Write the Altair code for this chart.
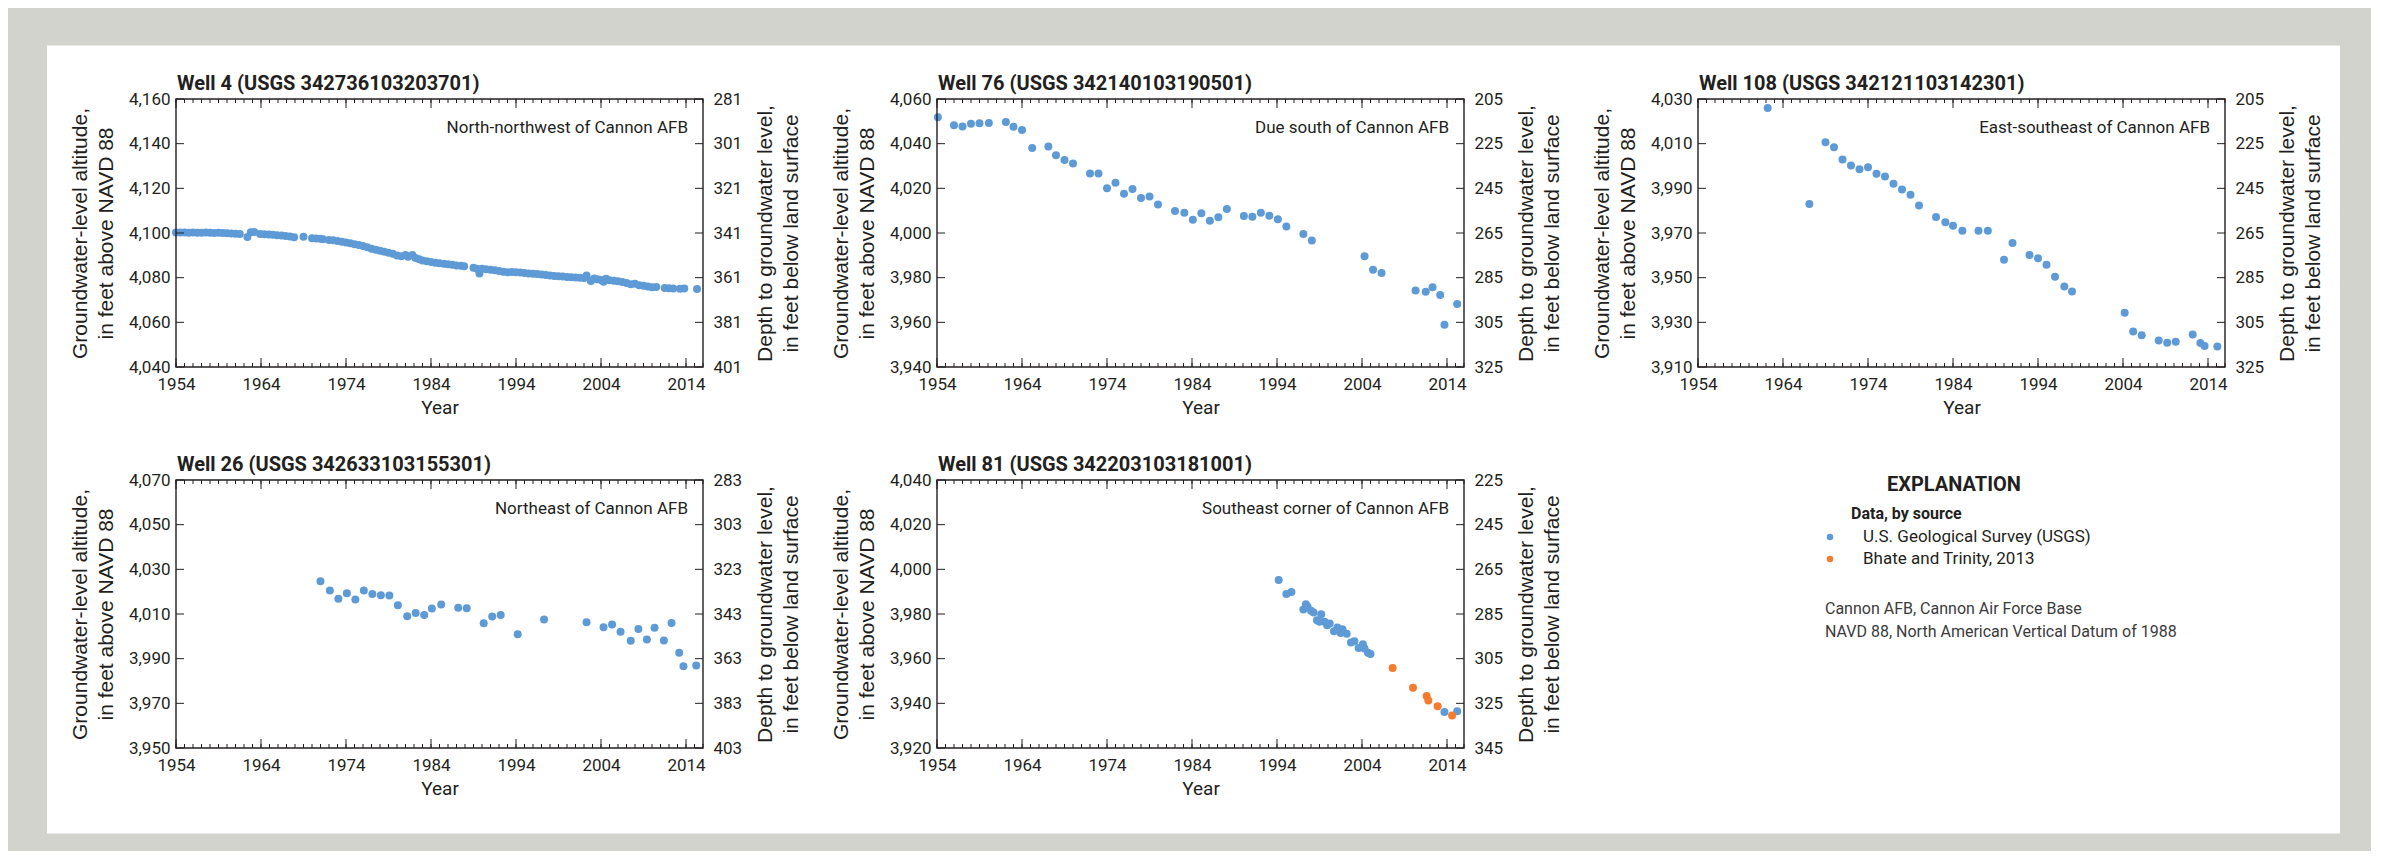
import altair as alt
import pandas as pd

# ---------------- data ----------------
SOURCES = ["U.S. Geological Survey (USGS)", "Bhate and Trinity, 2013"]
COLORS = ["#5e9bd6", "#f47c30"]

TITLES = [
    "Well 4 (USGS 342736103203701)",
    "Well 76 (USGS 342140103190501)",
    "Well 108 (USGS 342121103142301)",
    "Well 26 (USGS 342633103155301)",
    "Well 81 (USGS 342203103181001)",
]
LOCATIONS = [
    "North-northwest of Cannon AFB",
    "Due south of Cannon AFB",
    "East-southeast of Cannon AFB",
    "Northeast of Cannon AFB",
    "Southeast corner of Cannon AFB",
]
Y_DOMAINS = [[4040, 4160], [3940, 4060], [3910, 4030], [3950, 4070], [3920, 4040]]
LAND_SURFACE = [4441, 4265, 4235, 4353, 4265]   # altitude + depth, from the two axes
X_DOMAIN = [1954, 2016]
MAJOR_YEARS = [1954, 1964, 1974, 1984, 1994, 2004, 2014]
MINOR_YEARS = list(range(1954, 2017))

W4_YEAR = [1954.0, 1954.5, 1955.0, 1955.5, 1956.0, 1956.5, 1957.0, 1957.5, 1958.0, 1958.5,
           1959.0, 1959.5, 1960.0, 1960.5, 1961.0, 1961.5, 1962.4, 1962.8, 1963.2, 1963.9,
           1964.4, 1964.9, 1965.4, 1965.9, 1966.4, 1966.9, 1967.4, 1967.9, 1969.0, 1970.0,
           1970.5, 1971.0, 1971.3, 1972.0, 1972.5, 1973.0, 1973.5, 1974.0, 1974.5, 1975.0,
           1975.5, 1976.0, 1976.5, 1977.0, 1977.5, 1978.0, 1978.5, 1979.0, 1979.5, 1980.0,
           1980.5, 1981.0, 1981.3, 1981.8, 1982.2, 1982.6, 1983.0, 1983.5, 1984.0, 1984.5,
           1985.0, 1985.5, 1986.0, 1986.5, 1987.0, 1987.5, 1987.9, 1989.0, 1989.4, 1989.7,
           1990.0, 1990.5, 1991.0, 1991.5, 1992.0, 1992.5, 1993.0, 1993.5, 1994.0, 1994.5,
           1995.0, 1995.5, 1996.0, 1996.5, 1997.0, 1997.5, 1998.0, 1998.5, 1999.0, 1999.5,
           2000.0, 2000.5, 2001.0, 2001.5, 2002.0, 2002.3, 2002.8, 2003.2, 2003.6, 2004.0,
           2004.3, 2004.6, 2005.0, 2005.5, 2006.0, 2006.5, 2007.0, 2007.5, 2008.0, 2008.5,
           2009.0, 2009.5, 2010.0, 2010.5, 2011.5, 2012.0, 2012.5, 2013.3, 2013.8, 2015.3]
W4_LEVEL = [4100.2, 4100.2, 4100.2, 4100.1, 4100.2, 4100.1, 4100.1, 4100.2, 4100.1, 4100.0,
            4100.1, 4100.0, 4099.9, 4099.8, 4099.7, 4099.5, 4098.2, 4100.3, 4100.5, 4099.5,
            4099.4, 4099.3, 4099.2, 4099.0, 4098.9, 4098.7, 4098.4, 4098.1, 4098.3, 4097.7,
            4097.5, 4097.4, 4097.2, 4096.9, 4096.7, 4096.4, 4096.1, 4095.8, 4095.4, 4095.0,
            4094.6, 4094.2, 4093.6, 4093.0, 4092.5, 4092.0, 4091.6, 4091.2, 4090.7, 4089.9,
            4089.6, 4090.2, 4089.4, 4090.2, 4088.8, 4088.2, 4087.7, 4087.3, 4087.0, 4086.7,
            4086.4, 4086.2, 4086.0, 4085.8, 4085.5, 4085.3, 4085.1, 4084.4, 4084.0, 4081.9,
            4084.0, 4083.8, 4083.6, 4083.3, 4083.0, 4082.6, 4082.4, 4082.5, 4082.4, 4082.3,
            4082.1, 4081.9, 4081.7, 4081.6, 4081.4, 4081.2, 4081.0, 4080.8, 4080.6, 4080.5,
            4080.3, 4080.2, 4080.1, 4080.0, 4079.9, 4081.0, 4078.5, 4079.6, 4079.3, 4079.0,
            4078.2, 4079.5, 4078.8, 4078.6, 4078.4, 4078.1, 4077.6, 4077.0, 4077.3, 4076.6,
            4076.4, 4076.0, 4075.7, 4075.8, 4075.4, 4075.3, 4075.2, 4075.0, 4075.1, 4074.9]

W76_YEAR = [1954.1, 1956.0, 1957.0, 1958.0, 1959.0, 1960.1, 1962.1, 1963.0, 1964.0, 1965.2,
            1967.1, 1968.0, 1969.0, 1970.0, 1972.0, 1973.0, 1974.0, 1975.0, 1976.0, 1977.0,
            1978.0, 1979.0, 1980.0, 1982.0, 1983.1, 1984.1, 1985.1, 1986.1, 1987.1, 1988.1,
            1990.1, 1991.1, 1992.1, 1993.1, 1994.1, 1995.1, 1997.1, 1998.1, 2004.3, 2005.3,
            2006.3, 2010.3, 2011.5, 2012.3, 2013.2, 2013.7, 2015.2]
W76_LEVEL = [4051.8, 4048.3, 4047.7, 4048.9, 4049.1, 4049.2, 4049.7, 4047.6, 4046.1, 4038.1,
             4038.7, 4034.8, 4032.7, 4031.1, 4026.6, 4026.6, 4020.0, 4022.5, 4017.6, 4019.7,
             4015.7, 4016.3, 4012.8, 4009.8, 4009.1, 4005.9, 4008.8, 4005.5, 4007.0, 4010.7,
             4007.6, 4007.3, 4009.1, 4007.7, 4006.2, 4002.9, 3999.6, 3996.6, 3989.6, 3983.6,
             3982.1, 3974.2, 3973.7, 3975.7, 3972.2, 3958.9, 3968.2]

W108_YEAR = [1962.2, 1967.1, 1969.0, 1970.0, 1971.0, 1972.0, 1973.0, 1974.0, 1975.0, 1976.0,
             1977.0, 1978.0, 1979.0, 1980.0, 1982.0, 1983.1, 1984.0, 1985.1, 1987.0, 1988.1,
             1990.0, 1991.0, 1993.0, 1994.0, 1995.0, 1996.0, 1997.1, 1998.0, 2004.2, 2005.2,
             2006.2, 2008.2, 2009.2, 2010.2, 2012.2, 2013.1, 2013.6, 2015.1]
W108_LEVEL = [4026.0, 3983.0, 4010.6, 4008.4, 4002.9, 4000.2, 3998.5, 3999.4, 3996.5, 3995.3,
              3992.1, 3989.5, 3987.1, 3982.3, 3977.2, 3974.8, 3973.2, 3971.0, 3971.0, 3971.0,
              3958.0, 3965.5, 3960.2, 3958.7, 3955.8, 3950.4, 3946.1, 3943.8, 3934.3, 3925.9,
              3924.2, 3921.9, 3920.9, 3921.3, 3924.5, 3920.7, 3919.4, 3919.2]

W26_YEAR = [1971.0, 1972.1, 1973.1, 1974.1, 1975.1, 1976.1, 1977.1, 1978.1, 1979.1, 1980.1,
            1981.2, 1982.2, 1983.2, 1984.1, 1985.2, 1987.2, 1988.2, 1990.2, 1991.2, 1992.2,
            1994.2, 1997.3, 2002.3, 2004.3, 2005.3, 2006.3, 2007.5, 2008.4, 2009.4, 2010.3,
            2011.4, 2012.3, 2013.2, 2013.7, 2015.2]
W26_LEVEL = [4024.7, 4020.5, 4016.8, 4019.3, 4016.5, 4020.5, 4018.9, 4018.4, 4018.3, 4013.9,
             4009.0, 4010.4, 4009.6, 4012.5, 4014.2, 4012.8, 4012.6, 4005.9, 4008.9, 4009.5,
             4000.9, 4007.5, 4006.3, 4004.1, 4005.3, 4002.0, 3998.0, 4003.3, 3998.6, 4003.8,
             3998.1, 4006.0, 3992.6, 3986.6, 3986.9]

W81_USGS_YEAR = [1994.2, 1995.1, 1995.7, 1997.1, 1997.4, 1997.6, 1998.0, 1998.3, 1998.7, 1999.0,
                 1999.2, 1999.6, 1999.9, 2000.2, 2000.7, 2001.1, 2001.5, 2001.7, 2002.2, 2002.7,
                 2003.1, 2003.6, 2004.1, 2004.3, 2004.7, 2005.0, 2013.7, 2015.2]
W81_USGS_LEVEL = [3995.2, 3989.0, 3989.9, 3982.0, 3984.4, 3983.2, 3981.4, 3980.7, 3977.2, 3976.5,
                  3979.9, 3976.5, 3975.0, 3975.7, 3972.3, 3973.9, 3971.5, 3973.2, 3971.2, 3967.2,
                  3967.8, 3964.8, 3966.5, 3964.5, 3962.6, 3962.1, 3936.1, 3936.4]
W81_BHATE_YEAR = [2007.6, 2010.0, 2011.6, 2011.8, 2012.9, 2014.6]
W81_BHATE_LEVEL = [3955.8, 3947.0, 3943.3, 3941.3, 3938.7, 3934.6]

LEGEND_HEADER = "EXPLANATION"
LEGEND_TITLE = "Data, by source"
NOTES = ["Cannon AFB, Cannon Air Force Base",
         "NAVD 88, North American Vertical Datum of 1988"]
LEFT_TITLE = ["Groundwater-level altitude,", "in feet above NAVD 88"]
RIGHT_TITLE = ["Depth to groundwater level,", "in feet below land surface"]
X_TITLE = "Year"

# ---------------- style ----------------
NARROW = "Roboto"
SANS = "Liberation Sans"
INK = "#231f20"
GRAY_BG = "#d3d3cd"
W, H = 527, 268
TICK_FS = 17

color_scale = alt.Scale(domain=SOURCES, range=COLORS)


def panel(k, df):
    lo, hi = Y_DOMAINS[k]
    yticks = list(range(lo, hi + 1, 20))
    land = LAND_SURFACE[k]
    xs = alt.Scale(domain=X_DOMAIN, nice=False, zero=False)
    ys = alt.Scale(domain=[lo, hi], nice=False, zero=False)
    one = pd.DataFrame({"k": [0]})
    layers = []
    if k == 0:
        # white sheet behind all panels (drawn in the first panel, unclipped)
        layers.append(
            alt.Chart(one).mark_rect(color="white").encode(
                x=alt.value(-129), x2=alt.value(2164),
                y=alt.value(-53.5), y2=alt.value(734.5)))

    pts = alt.Chart(df).mark_circle(size=64, opacity=1).encode(
        x=alt.X("year:Q", scale=xs, axis=alt.Axis(
            values=MAJOR_YEARS, format="d", ticks=False, domain=False, grid=False,
            labelFlush=False, labelOverlap=False,
            labelFont=NARROW, labelFontSize=TICK_FS, labelColor=INK, labelPadding=9,
            title=X_TITLE, titleFont=NARROW, titleFontSize=19, titleFontWeight="normal",
            titleColor=INK, titlePadding=6, zindex=1)),
        y=alt.Y("level:Q", scale=ys, axis=alt.Axis(
            orient="left", values=yticks, format=",.0f", ticks=False, domain=False,
            grid=False, labelFlush=False, labelOverlap=False,
            labelFont=NARROW, labelFontSize=TICK_FS, labelColor=INK, labelPadding=6,
            title=LEFT_TITLE, titleFont=SANS, titleFontSize=21, titleFontWeight="normal",
            titleColor=INK, titlePadding=12, titleLineHeight=26, zindex=1)),
        color=alt.Color("source:N", scale=color_scale, legend=None),
    )
    layers.append(pts)

    minor = pd.DataFrame({"year": MINOR_YEARS})
    major = pd.DataFrame({"year": MAJOR_YEARS})
    for dfx, ln in ((minor, 4), (major, 9)):
        for y0, y1 in ((H, H - ln), (0, ln)):
            layers.append(alt.Chart(dfx).mark_rule(color=INK, strokeWidth=1).encode(
                x=alt.X("year:Q", scale=xs, axis=None),
                y=alt.value(y0), y2=alt.value(y1)))

    ydf = pd.DataFrame({"level": yticks})
    layers.append(alt.Chart(ydf).mark_rule(color=INK, strokeWidth=1).encode(
        y=alt.Y("level:Q", scale=ys, axis=None),
        x=alt.value(0), x2=alt.value(8)))
    layers.append(alt.Chart(ydf).mark_rule(color=INK, strokeWidth=1).encode(
        y=alt.Y("level:Q", scale=ys, axis=alt.Axis(
            orient="right", values=yticks, ticks=False, domain=False, grid=False,
            labelExpr=f"format({land} - datum.value, 'd')",
            labelFlush=False, labelOverlap=False,
            labelFont=NARROW, labelFontSize=TICK_FS, labelColor=INK, labelPadding=10,
            title=RIGHT_TITLE, titleFont=SANS, titleFontSize=21, titleFontWeight="normal",
            titleColor=INK, titleLineHeight=26, titleAngle=270,
            titleBaseline="top", titleAlign="center", titleX=51, titleY=H / 2, zindex=1)),
        x=alt.value(W), x2=alt.value(W - 8)))

    layers.append(alt.Chart(one).mark_rect(filled=False, color=INK, strokeWidth=1.4).encode(
        x=alt.value(0), x2=alt.value(W), y=alt.value(0), y2=alt.value(H)))

    layers.append(alt.Chart(pd.DataFrame({"t": [LOCATIONS[k]]})).mark_text(
        align="right", baseline="middle", font=NARROW, fontSize=17, color=INK).encode(
        text="t:N", x=alt.value(W - 15), y=alt.value(29)))

    layers.append(alt.Chart(pd.DataFrame({"t": [TITLES[k]]})).mark_text(
        align="left", baseline="alphabetic", font=NARROW, fontSize=20, fontWeight="bold",
        color=INK).encode(text="t:N", x=alt.value(1), y=alt.value(-9)))

    return alt.layer(*layers).resolve_axis(x="independent", y="independent").properties(
        width=W, height=H)


def frame_of(years, levels, source):
    return pd.DataFrame({"year": years, "level": levels, "source": [source] * len(years)})


dfs = [
    frame_of(W4_YEAR, W4_LEVEL, SOURCES[0]),
    frame_of(W76_YEAR, W76_LEVEL, SOURCES[0]),
    frame_of(W108_YEAR, W108_LEVEL, SOURCES[0]),
    frame_of(W26_YEAR, W26_LEVEL, SOURCES[0]),
    pd.concat([frame_of(W81_USGS_YEAR, W81_USGS_LEVEL, SOURCES[0]),
               frame_of(W81_BHATE_YEAR, W81_BHATE_LEVEL, SOURCES[1])], ignore_index=True),
]
panels = [panel(k, d) for k, d in enumerate(dfs)]

# ---------------- explanation ----------------
leg_layers = [
    alt.Chart(pd.DataFrame({"t": [LEGEND_HEADER]})).mark_text(
        align="center", baseline="middle", font=NARROW, fontSize=20, fontWeight="bold",
        color=INK).encode(text="t:N", x=alt.value(256), y=alt.value(5)),
    alt.Chart(pd.DataFrame({"t": [LEGEND_TITLE]})).mark_text(
        align="left", baseline="middle", font=NARROW, fontSize=16, fontWeight="bold",
        color=INK).encode(text="t:N", x=alt.value(153), y=alt.value(34)),
]
for i, s in enumerate(SOURCES):
    d = pd.DataFrame({"source": [s]})
    leg_layers.append(alt.Chart(d).mark_circle(size=42, opacity=1).encode(
        x=alt.value(132), y=alt.value(57 + 22 * i),
        color=alt.Color("source:N", scale=color_scale, legend=None)))
    leg_layers.append(alt.Chart(d).mark_text(
        align="left", baseline="middle", font=NARROW, fontSize=17, color=INK).encode(
        text="source:N", x=alt.value(165), y=alt.value(57 + 22 * i)))
for i, n in enumerate(NOTES):
    leg_layers.append(alt.Chart(pd.DataFrame({"t": [n]})).mark_text(
        align="left", baseline="middle", font=NARROW, fontSize=16, color="#3b3b3b").encode(
        text="t:N", x=alt.value(127), y=alt.value(129 + 23 * i)))
legend = alt.layer(*leg_layers).properties(width=W, height=H)

chart = alt.concat(
    *panels, legend, columns=3, spacing={"row": 113, "column": 234}, bounds="flush"
).properties(
    padding={"left": 39, "top": 37, "right": 31, "bottom": 17},
    background=GRAY_BG,
).configure_view(strokeWidth=0)

chart.save("out.html", embed_options={"renderer": "svg", "actions": False})
